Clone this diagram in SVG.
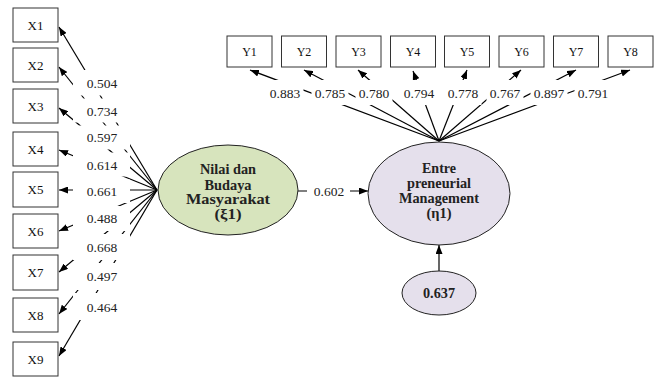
<svg xmlns="http://www.w3.org/2000/svg" width="657" height="377" viewBox="0 0 657 377">
<style>
.box{fill:#fff;stroke:#333;stroke-width:1}
.bt{font-family:"Liberation Serif",serif;font-size:13px;fill:#111;text-anchor:middle}
.yt{font-size:12px}
.ln{stroke:#000;stroke-width:1.2;fill:none}
.lb{fill:#fff}
.lt{font-family:"Liberation Serif",serif;font-size:13.5px;fill:#222;text-anchor:middle}
.et{font-family:"Liberation Serif",serif;font-size:15px;font-weight:bold;fill:#222;text-anchor:middle}
</style>
<defs>
<marker id="ah" markerUnits="userSpaceOnUse" markerWidth="9" markerHeight="7" refX="9" refY="3.5" orient="auto"><path d="M0,0 L9,3.5 L0,7 z" fill="#000"/></marker>
</defs>
<g id="connectors">
<line class="ln" x1="157" y1="190" x2="59" y2="27" marker-end="url(#ah)"/>
<line class="ln" x1="157" y1="190" x2="59" y2="67" marker-end="url(#ah)"/>
<line class="ln" x1="157" y1="190" x2="59" y2="108" marker-end="url(#ah)"/>
<line class="ln" x1="157" y1="190" x2="59" y2="150" marker-end="url(#ah)"/>
<line class="ln" x1="157" y1="190" x2="59" y2="190" marker-end="url(#ah)"/>
<line class="ln" x1="157" y1="190" x2="59" y2="231" marker-end="url(#ah)"/>
<line class="ln" x1="157" y1="190" x2="59" y2="272" marker-end="url(#ah)"/>
<line class="ln" x1="157" y1="190" x2="59" y2="314" marker-end="url(#ah)"/>
<line class="ln" x1="157" y1="190" x2="59" y2="356" marker-end="url(#ah)"/>
<line class="ln" x1="439" y1="141" x2="250" y2="70" marker-end="url(#ah)"/>
<line class="ln" x1="439" y1="141" x2="304" y2="70" marker-end="url(#ah)"/>
<line class="ln" x1="439" y1="141" x2="358" y2="70" marker-end="url(#ah)"/>
<line class="ln" x1="439" y1="141" x2="413" y2="71" marker-end="url(#ah)"/>
<line class="ln" x1="439" y1="141" x2="467" y2="70" marker-end="url(#ah)"/>
<line class="ln" x1="439" y1="141" x2="521" y2="70" marker-end="url(#ah)"/>
<line class="ln" x1="439" y1="141" x2="576" y2="70" marker-end="url(#ah)"/>
<line class="ln" x1="439" y1="141" x2="630" y2="70" marker-end="url(#ah)"/>
<line class="ln" x1="298" y1="191" x2="368" y2="191" marker-end="url(#ah)"/>
<line class="ln" x1="439" y1="271" x2="439" y2="245" marker-end="url(#ah)"/>
</g>
<g id="labels">
<rect class="lb" x="73" y="70" width="57" height="25.5"/>
<rect class="lb" x="73" y="98.5" width="57" height="24"/>
<rect class="lb" x="73" y="125.5" width="57" height="24"/>
<rect class="lb" x="73" y="152.5" width="57" height="24"/>
<rect class="lb" x="73" y="179.5" width="57" height="23.5"/>
<rect class="lb" x="73" y="206" width="57" height="25"/>
<rect class="lb" x="73" y="234" width="57" height="26"/>
<rect class="lb" x="73" y="263" width="57" height="27"/>
<rect class="lb" x="73" y="293" width="57" height="27"/>
<text class="lt" x="102" y="87.5">0.504</text>
<text class="lt" x="102" y="115.5">0.734</text>
<text class="lt" x="102" y="141.5">0.597</text>
<text class="lt" x="102" y="169.5">0.614</text>
<text class="lt" x="102" y="195.5">0.661</text>
<text class="lt" x="102" y="222.5">0.488</text>
<text class="lt" x="102" y="251.5">0.668</text>
<text class="lt" x="102" y="280.5">0.497</text>
<text class="lt" x="102" y="311.5">0.464</text>
<rect class="lb" x="266.5" y="80" width="37" height="25"/>
<rect class="lb" x="311.5" y="80" width="37" height="25"/>
<rect class="lb" x="355.5" y="80" width="37" height="25"/>
<rect class="lb" x="400.5" y="80" width="37" height="25"/>
<rect class="lb" x="444.5" y="80" width="37" height="25"/>
<rect class="lb" x="486.5" y="80" width="37" height="25"/>
<rect class="lb" x="530.5" y="80" width="37" height="25"/>
<rect class="lb" x="574.5" y="80" width="37" height="25"/>
<text class="lt" x="285" y="97.5">0.883</text>
<text class="lt" x="330" y="97.5">0.785</text>
<text class="lt" x="374" y="97.5">0.780</text>
<text class="lt" x="419" y="97.5">0.794</text>
<text class="lt" x="463" y="97.5">0.778</text>
<text class="lt" x="505" y="97.5">0.767</text>
<text class="lt" x="549" y="97.5">0.897</text>
<text class="lt" x="593" y="97.5">0.791</text>
<rect class="lb" x="307" y="181" width="43" height="20"/>
<text class="lt" x="329" y="195.5">0.602</text>
</g>
<g id="X1"><rect class="box" x="13" y="8" width="45" height="34"/><text class="bt" x="35.5" y="29.5">X1</text></g>
<g id="X2"><rect class="box" x="13" y="48" width="45" height="34"/><text class="bt" x="35.5" y="69.5">X2</text></g>
<g id="X3"><rect class="box" x="13" y="89" width="45" height="34"/><text class="bt" x="35.5" y="110.5">X3</text></g>
<g id="X4"><rect class="box" x="13" y="132" width="45" height="34"/><text class="bt" x="35.5" y="153.5">X4</text></g>
<g id="X5"><rect class="box" x="13" y="172" width="45" height="35"/><text class="bt" x="35.5" y="194">X5</text></g>
<g id="X6"><rect class="box" x="13" y="214" width="45" height="34"/><text class="bt" x="35.5" y="235.5">X6</text></g>
<g id="X7"><rect class="box" x="13" y="255" width="45" height="35"/><text class="bt" x="35.5" y="277">X7</text></g>
<g id="X8"><rect class="box" x="13" y="298" width="45" height="34"/><text class="bt" x="35.5" y="319.5">X8</text></g>
<g id="X9"><rect class="box" x="13" y="342" width="45" height="34"/><text class="bt" x="35.5" y="363.5">X9</text></g>
<g id="Y1"><rect class="box" x="227" y="36" width="45" height="31"/><text class="bt yt" x="249.5" y="55.5">Y1</text></g>
<g id="Y2"><rect class="box" x="281.5" y="36" width="45" height="31"/><text class="bt yt" x="304" y="55.5">Y2</text></g>
<g id="Y3"><rect class="box" x="336" y="36" width="45" height="31"/><text class="bt yt" x="358.5" y="55.5">Y3</text></g>
<g id="Y4"><rect class="box" x="390.5" y="36" width="45" height="31"/><text class="bt yt" x="413" y="55.5">Y4</text></g>
<g id="Y5"><rect class="box" x="444.5" y="36" width="45" height="31"/><text class="bt yt" x="467" y="55.5">Y5</text></g>
<g id="Y6"><rect class="box" x="499" y="36" width="45" height="31"/><text class="bt yt" x="521.5" y="55.5">Y6</text></g>
<g id="Y7"><rect class="box" x="553.5" y="36" width="45" height="31"/><text class="bt yt" x="576" y="55.5">Y7</text></g>
<g id="Y8"><rect class="box" x="608" y="36" width="45" height="31"/><text class="bt yt" x="630.5" y="55.5">Y8</text></g>
<g id="xi1">
<ellipse cx="228" cy="190" rx="70" ry="45" fill="#d7e4bd" stroke="#222" stroke-width="1"/>
<text class="et" x="228" y="174" textLength="56" lengthAdjust="spacingAndGlyphs">Nilai dan</text>
<text class="et" x="228" y="189.5" textLength="47" lengthAdjust="spacingAndGlyphs">Budaya</text>
<text class="et" x="228" y="204" textLength="84" lengthAdjust="spacingAndGlyphs">Masyarakat</text>
<text class="et" x="228" y="218.5" textLength="27" lengthAdjust="spacingAndGlyphs">(ξ1)</text>
</g>
<g id="eta1">
<ellipse cx="439" cy="193.5" rx="71" ry="51.5" fill="#e5e0ec" stroke="#222" stroke-width="1"/>
<text class="et" x="439" y="173" textLength="34" lengthAdjust="spacingAndGlyphs">Entre</text>
<text class="et" x="439" y="188" textLength="64" lengthAdjust="spacingAndGlyphs">preneurial</text>
<text class="et" x="439" y="202.5" textLength="80" lengthAdjust="spacingAndGlyphs">Management</text>
<text class="et" x="439" y="218" textLength="25" lengthAdjust="spacingAndGlyphs">(η1)</text>
</g>
<g id="zeta1">
<ellipse cx="439" cy="293" rx="37" ry="22" fill="#e5e0ec" stroke="#222" stroke-width="1"/>
<text class="et" x="439" y="298" textLength="32" lengthAdjust="spacingAndGlyphs">0.637</text>
</g>
</svg>
